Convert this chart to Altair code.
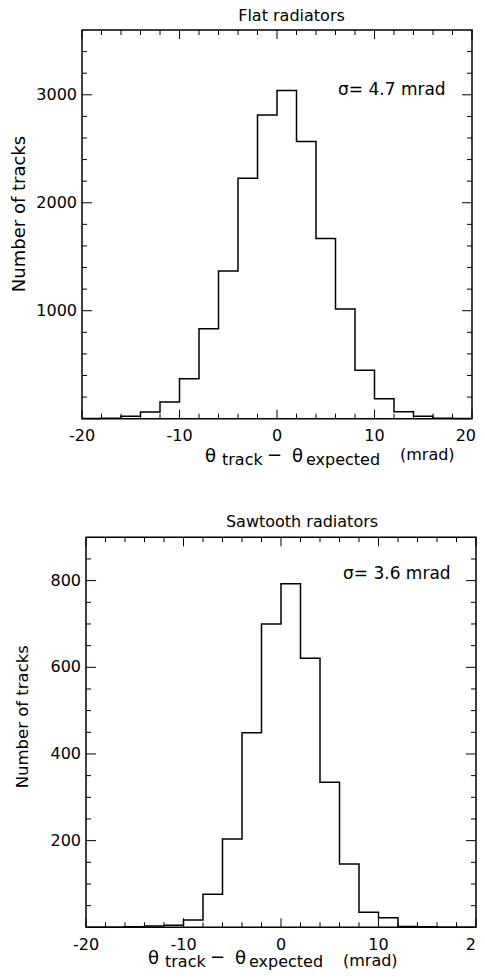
import altair as alt
import pandas as pd

FONT = "DejaVu Sans"

# ---- data -------------------------------------------------------------
bin_edges = [-20, -18, -16, -14, -12, -10, -8, -6, -4, -2, 0,
             2, 4, 6, 8, 10, 12, 14, 16, 18, 20]
flat_counts = [2, 5, 22, 62, 155, 370, 833, 1368, 2226, 2812,
               3040, 2568, 1670, 1015, 448, 185, 65, 22, 5, 2]
saw_counts = [0, 0, 1, 3, 5, 17, 76, 204, 449, 700,
              793, 621, 335, 146, 35, 22, 2, 1, 0, 0]

x_major = [-20, -10, 0, 10, 20]
x_minor = [-18, -16, -14, -12, -8, -6, -4, -2, 2, 4, 6, 8, 12, 14, 16, 18]

flat_y_labels = [1000, 2000, 3000]
flat_y_minor = [200, 400, 600, 800, 1200, 1400, 1600, 1800,
                2200, 2400, 2600, 2800, 3200, 3400]
saw_y_labels = [200, 400, 600, 800]
saw_y_minor = [50, 100, 150, 250, 300, 350, 450, 500, 550,
               650, 700, 750, 850]

flat_title = "Flat radiators"
saw_title = "Sawtooth radiators"
flat_sigma = "\u03c3= 4.7 mrad"
saw_sigma = "\u03c3= 3.6 mrad"
y_title = "Number of tracks"

# ---- layout (pixels, relative to the drawing origin) --------------------
W_ALL = 395
H_ALL = 941
MAJ = 9
MIN = 5


def panel(title, counts, ymax, ylabels, yminor, sigma, sig_x, sig_y, g):
    L, R, T, B = g["left"], g["left"] + 390, g["top"], g["bottom"]
    xs = alt.Scale(domain=[-20, 20], range=[L, R], nice=False, zero=False)
    ys = alt.Scale(domain=[0, ymax], range=[B, T], nice=False, zero=False)

    def X(f):
        return alt.X(f, type="quantitative", scale=xs, axis=None)

    def Y(f):
        return alt.Y(f, type="quantitative", scale=ys, axis=None)

    layers = []

    # histogram outline (step)
    df = pd.DataFrame({"x": bin_edges, "n": counts + [counts[-1]]})
    layers.append(alt.Chart(df).mark_line(
        interpolate="step-after", color="black", strokeWidth=1.5
    ).encode(x=X("x"), y=Y("n")))

    # frame
    fr = pd.DataFrame({"x0": [bin_edges[0]], "x1": [bin_edges[-1]],
                       "y0": [0], "y1": [ymax]})
    layers.append(alt.Chart(fr).mark_rect(
        fillOpacity=0, stroke="black", strokeWidth=1.5
    ).encode(x=X("x0"), x2="x1", y=Y("y0"), y2="y1"))

    def xticks(vals, ln):
        d = pd.DataFrame({"v": vals})
        bot = alt.Chart(d).mark_rule(color="black", strokeWidth=1).encode(
            x=X("v"), y=alt.value(B), y2=alt.value(B - ln))
        top = alt.Chart(d).mark_rule(color="black", strokeWidth=1).encode(
            x=X("v"), y=alt.value(T), y2=alt.value(T + ln))
        return [bot, top]

    def yticks(vals, ln):
        d = pd.DataFrame({"v": vals})
        left = alt.Chart(d).mark_rule(color="black", strokeWidth=1).encode(
            y=Y("v"), x=alt.value(L), x2=alt.value(L + ln))
        right = alt.Chart(d).mark_rule(color="black", strokeWidth=1).encode(
            y=Y("v"), x=alt.value(R), x2=alt.value(R - ln))
        return [left, right]

    layers += xticks(x_major, MAJ) + xticks(x_minor, MIN)
    layers += yticks(ylabels, MAJ + 1) + yticks(yminor, MIN)

    # tick labels (last x label optionally kept inside the page)
    inner = x_major[:-1] if g["flush_last"] else x_major
    xl = pd.DataFrame({"v": inner, "t": [str(v) for v in inner]})
    layers.append(alt.Chart(xl).mark_text(
        font=FONT, fontSize=16, align="center", baseline="top", color="black"
    ).encode(x=X("v"), y=alt.value(B + g["xlab"]), text="t:N"))
    if g["flush_last"]:
        xr = pd.DataFrame({"v": x_major[-1:], "t": [str(x_major[-1])]})
        layers.append(alt.Chart(xr).mark_text(
            font=FONT, fontSize=16, align="right", baseline="top",
            color="black", dx=4
        ).encode(x=X("v"), y=alt.value(B + g["xlab"]), text="t:N"))
    yl = pd.DataFrame({"v": ylabels, "t": [str(v) for v in ylabels]})
    layers.append(alt.Chart(yl).mark_text(
        font=FONT, fontSize=16, align="right", baseline="middle", color="black"
    ).encode(y=Y("v"), x=alt.value(L - g["ylab"]), text="t:N"))

    def txt(s, x, y, size, align="left", angle=0):
        return alt.Chart(pd.DataFrame({"t": [s]})).mark_text(
            font=FONT, fontSize=size, align=align, baseline="alphabetic",
            color="black", angle=angle
        ).encode(x=alt.value(x), y=alt.value(y), text="t:N")

    # panel title
    layers.append(txt(title, g["tx"], T - g["ty"], 16, align="center"))
    # y title
    layers.append(txt(y_title, L + g["yx"], T + g["yy"], g["ys"],
                      align="center", angle=270))
    # x title pieces
    t1 = g["t1"]
    bb = B + g["xt"]
    layers.append(txt("\u03b8", t1, bb, 18))
    layers.append(txt("track", t1 + 17, bb + 3.5, 16))
    layers.append(txt("\u2212", t1 + 62, bb - 1, 18))
    layers.append(txt("\u03b8", t1 + 87, bb, 18))
    layers.append(txt("expected", t1 + 101, bb + 3.5, 16))
    layers.append(txt("(mrad)", t1 + 195, B + g["mr"], 16))

    # sigma annotation in data coordinates
    sig = alt.Chart(pd.DataFrame({"x": [sig_x], "y": [sig_y], "t": [sigma]})).mark_text(
        font=FONT, fontSize=17, align="left", baseline="middle", color="black"
    ).encode(x=X("x"), y=Y("y"), text="t:N")
    layers.append(sig)
    return layers


top_layers = panel(flat_title, flat_counts, 3600, flat_y_labels, flat_y_minor,
                   flat_sigma, 6.26, 3043,
                   dict(left=0, top=0, bottom=388.7, xlab=9, ylab=5,
                        tx=209.5, ty=9.4, yx=-57, yy=184, ys=18,
                        t1=123, xt=43, mr=41, flush_last=True))
bot_layers = panel(saw_title, saw_counts, 900, saw_y_labels, saw_y_minor,
                   saw_sigma, 6.36, 815,
                   dict(left=4, top=507.3, bottom=897.3, xlab=10, ylab=5,
                        tx=220, ty=10.6, yx=-58, yy=179.4, ys=16.5,
                        t1=66, xt=36.5, mr=38.5, flush_last=False))

chart = alt.layer(*(top_layers + bot_layers)).resolve_scale(
    x="independent", y="independent"
).properties(
    width=W_ALL, height=H_ALL,
    autosize=alt.AutoSizeParams(type="none"),
    padding={"left": 74, "top": 22, "right": 0, "bottom": 0},
    view=alt.ViewBackground(stroke="white", strokeWidth=0, strokeOpacity=0),
).configure_view(stroke="transparent", strokeWidth=0).configure(
    background="white")

chart.save("out.html", embed_options={"renderer": "svg", "actions": False})
